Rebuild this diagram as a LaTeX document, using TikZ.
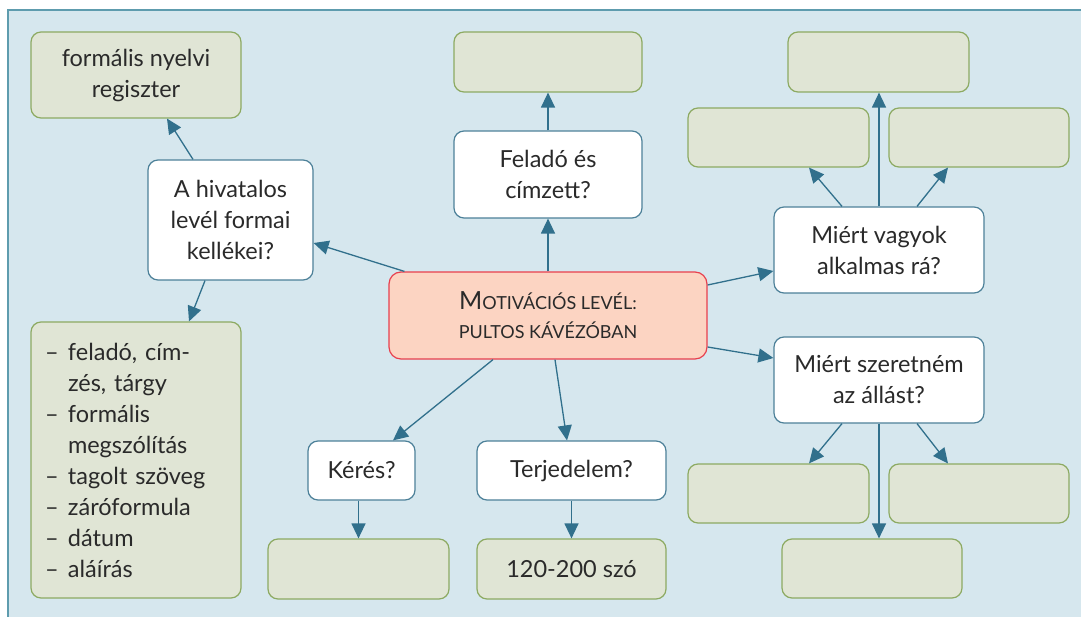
\documentclass[tikz,border=0pt]{standalone}
\usepackage{fontspec}
\setmainfont{Lato}
\usetikzlibrary{arrows.meta}
\definecolor{bg}{HTML}{D6E7EE}
\definecolor{framec}{HTML}{5E9CAE}
\definecolor{gfill}{HTML}{E0E5D5}
\definecolor{gdraw}{HTML}{8DAA62}
\definecolor{wdraw}{HTML}{4D8199}
\definecolor{cfill}{HTML}{FCD4C2}
\definecolor{cdraw}{HTML}{E8404E}
\definecolor{arrc}{HTML}{31708C}
\definecolor{txt}{HTML}{2A2A2A}
\newcommand\dl{\makebox[23pt][l]{–}}
\newcommand\il{\hspace*{23pt}}
\begin{document}
\begin{tikzpicture}[x=1pt,y=-1pt,
  sz/.style 2 args={minimum width=#1pt, minimum height=#2pt},
  box/.style={rounded corners=10pt, line width=1.2pt, inner sep=0pt, align=center, text=txt, font=\fontsize{23.5}{31}\selectfont},
  gbox/.style={box, fill=gfill, draw=gdraw},
  wbox/.style={box, fill=white, draw=wdraw},
  cbox/.style={box, fill=cfill, draw=cdraw, rounded corners=12pt, font=\fontsize{18}{29}\selectfont},
  arr/.style={draw=arrc, line width=1.3pt, -{Triangle[length=15pt,width=14pt]}}]
\useasboundingbox (0,0) rectangle (1081,617);
\fill[bg] (8,10) rectangle (1100,640);
\draw[framec, line width=2.2pt] (1100,10) -- (8,10) -- (8,640);

% left
\node[gbox, sz={210}{86}] (reg) at (136,75) {formális nyelvi\\regiszter};
\node[wbox, sz={165}{120}] (hiv) at (230.5,220) {A hivatalos\\levél formai\\kellékei?};
\node[gbox, sz={210}{276}, align=left, text width=182pt] (lst) at (136,460) {\dl feladó, cím-\\\il zés, tárgy\\\dl formális\\\il megszólítás\\\dl tagolt szöveg\\\dl záróformula\\\dl dátum\\\dl aláírás};

% centre column
\node[gbox, sz={188}{60}] (fg) at (548,62) {};
\node[wbox, sz={188}{87}] (fel) at (548,174.5) {Feladó és\\címzett?};
\node[cbox, sz={318}{87}] (c) at (548,315.5) {{\fontsize{25}{29}\selectfont M}OTIVÁCIÓS LEVÉL:\\PULTOS KÁVÉZÓBAN};

% bottom
\node[wbox, sz={107}{59}] (ker) at (361.5,470.5) {Kérés?};
\node[gbox, sz={181}{60}] (kerg) at (358.5,569) {};
\node[wbox, sz={189}{59}] (ter) at (571.5,470.5) {Terjedelem?};
\node[gbox, sz={189}{60}] (szo) at (571.5,569) {120-200 szó};

% right
\node[gbox, sz={181}{60}] (rtop) at (878.5,62) {};
\node[gbox, sz={181}{59}] (rl) at (778.5,137.5) {};
\node[gbox, sz={180}{59}] (rr) at (979,137.5) {};
\node[wbox, sz={210}{86}] (vag) at (879,250) {Miért vagyok\\alkalmas rá?};
\node[wbox, sz={210}{86}] (sze) at (879,380) {Miért szeretném\\az állást?};
\node[gbox, sz={181}{59}] (ll) at (778.5,493.5) {};
\node[gbox, sz={180}{59}] (lr) at (979,493.5) {};
\node[gbox, sz={180}{59}] (bot) at (872,568.5) {};

% connectors
\draw[arr] ([xshift=16pt]c.north west) -- ([yshift=-23pt]hiv.east);
\draw[arr] ([xshift=-37.5pt]hiv.north) -- ([xshift=31pt]reg.south);
\draw[arr] ([xshift=-25.5pt]hiv.south) -- ([xshift=53pt]lst.north);
\draw[arr] (c.north) -- (fel.south);
\draw[arr] (fel.north) -- (fg.south);
\draw[arr] ([yshift=30.5pt]c.east) -- ([yshift=-21pt]vag.west);
\draw[arr] ([yshift=-31.5pt]c.east) -- ([yshift=22pt]sze.west);
\draw[arr] ([xshift=-55pt]c.south) -- ([xshift=31.5pt]ker.north);
\draw[arr] ([xshift=7pt]c.south) -- ([xshift=-4.5pt]ter.north);
\draw[arr] (ker.south -| kerg.north) -- (kerg.north);
\draw[arr] (ter.south) -- (szo.north);
\draw[arr] ([xshift=-37pt]vag.north) -- ([xshift=30.5pt]rl.south);
\draw[arr] (vag.north) -- (vag.north |- rtop.south);
\draw[arr] ([xshift=38pt]vag.north) -- ([xshift=-31pt]rr.south);
\draw[arr] ([xshift=-37pt]sze.south) -- ([xshift=30.5pt]ll.north);
\draw[arr] ([xshift=38pt]sze.south) -- ([xshift=-31pt]lr.north);
\draw[arr] (sze.south) -- (sze.south |- bot.north);
\end{tikzpicture}
\end{document}
